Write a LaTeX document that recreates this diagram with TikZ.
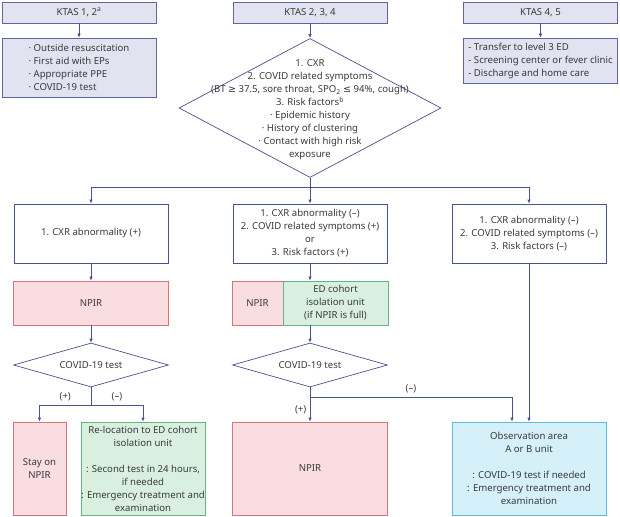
\documentclass[tikz,border=0pt]{standalone}
\usepackage{fontspec}
\setmainfont{Noto Sans}
\newfontfamily\symfont{DejaVu Sans}
\usepackage{tikz}
\usetikzlibrary{arrows.meta, shapes.geometric}

\definecolor{linecol}{HTML}{48538F}
\definecolor{txtcol}{HTML}{3A3A3A}
\definecolor{headfill}{HTML}{E2E2F1}
\definecolor{headline}{HTML}{5E66A2}
\definecolor{npirfill}{HTML}{F9DDE0}
\definecolor{npirline}{HTML}{D8737B}
\definecolor{cohortfill}{HTML}{D9F0E1}
\definecolor{cohortline}{HTML}{63B682}
\definecolor{obsfill}{HTML}{D6F0FA}
\definecolor{obsline}{HTML}{58BEDF}

\begin{document}
\begin{tikzpicture}[x=1pt, y=-1pt, font=\fontsize{9.6}{13}\selectfont, text=txtcol,
    main/.style = {draw=linecol, rectangle, inner sep=0pt, align=center, line width=0.7pt},
    head/.style = {main, draw=headline, fill=headfill, minimum width=154pt, minimum height=21pt},
    care/.style = {head, align=left},
    crit/.style = {main, minimum width=154pt, minimum height=59pt},
    npir/.style = {main, draw=npirline, fill=npirfill},
    cohort/.style = {main, draw=cohortline, fill=cohortfill},
    obsbox/.style = {main, draw=obsline, fill=obsfill},
    decision/.style = {draw=linecol, diamond, aspect=3.5, inner sep=1pt, line width=0.7pt},
    line/.style = {draw=linecol, line width=0.7pt},
    arrow/.style = {line, -{Latex[length=4pt,width=3.5pt]}}]
    \useasboundingbox (0,0) rectangle (620,516);

    % triage level
    \node[head] (ktasA) at (79,12.5) {KTAS 1, 2\textsuperscript{a}};
    \node[head] (ktasB) at (310,12.5) {KTAS 2, 3, 4};
    \node[head] (ktasC) at (540.5,12.5) {KTAS 4, 5};

    \node[care, minimum height=59pt] (careA) at (79,67.5) {· Outside resuscitation\\ · First aid with EPs\\ · Appropriate PPE\\ · COVID-19 test};
    \node[care, minimum height=45pt] (careC) at (540.5,60.5) {- Transfer to level 3 ED\\ - Screening center or fever clinic\\ - Discharge and home care};

    \path[arrow] (ktasA) edge (careA);
    \path[arrow] (ktasC) edge (careC);

    % screening
    \node[decision, minimum width=262pt, minimum height=139pt] (screen) at (310,108) {};
    \node[align=center] (screentext) at ([yshift=-2pt]screen.center) {1. CXR\\ 2. COVID related symptoms\\ (BT {\symfont ≥} 37.5, sore throat, SPO\textsubscript{2} {\symfont ≤} 94\%, cough)\\ 3. Risk factors\textsuperscript{b}\\ · Epidemic history\\ · History of clustering\\ · Contact with high risk\\ exposure};

    \path[arrow] (ktasB) edge (screen.north);

    \node[crit] (posbox) at (91,233.5) {1. CXR abnormality (+)};
    \node[crit] (midbox) at (310,233.5) {1. CXR abnormality (–)\\ 2. COVID related symptoms (+)\\ or\\ 3. Risk factors (+)};
    \node[crit] (negbox) at (529,233.5) {1. CXR abnormality (–)\\ 2. COVID related symptoms (–)\\ 3. Risk factors (–)};

    \coordinate (split) at (310,187);
    \draw[line] (screen.south) -- (split);
    \draw[arrow] (split) -| (posbox.north);
    \draw[arrow] (split) -- (midbox.north);
    \draw[arrow] (split) -| (negbox.north);

    % isolation
    \node[npir, minimum width=155pt, minimum height=44pt] (npirA) at (91,303) {NPIR};
    \node[npir, minimum width=51pt, minimum height=44pt] (npirB) at (257.5,303) {NPIR};
    \node[cohort, minimum width=105pt, minimum height=44pt] (cohortB) at (335.5,303) {ED cohort\\ isolation unit\\ (if NPIR is full)};

    \path[arrow] (posbox) edge (npirA);
    \draw[arrow] (midbox.south) -- (midbox.south |- cohortB.north);

    % tests
    \node[decision, minimum width=155pt, minimum height=44pt] (testA) at (91,365) {COVID-19 test};
    \node[decision, minimum width=155pt, minimum height=44pt] (testB) at (310,365) {COVID-19 test};

    \path[arrow] (npirA) edge (testA);
    \draw[arrow] (midbox.south |- cohortB.south) -- (testB.north);

    % outcome
    \node[npir, minimum width=53pt, minimum height=93pt] (stay) at (39.5,468.5) {Stay on\\ NPIR};
    \node[cohort, minimum width=124pt, minimum height=93pt] (reloc) at (143,468.5) {Re-location to ED cohort\\ isolation unit\\[13pt] : Second test in 24 hours,\\ if needed\\ : Emergency treatment and\\ examination};
    \node[npir, minimum width=155pt, minimum height=93pt] (npirC) at (310,468.5) {NPIR};
    \node[obsbox, minimum width=154pt, minimum height=93pt] (obs) at (529,468.5) {Observation area\\ A or B unit\\[13pt] : COVID-19 test if needed\\ : Emergency treatment and\\ examination};

    \coordinate (splitA) at (91,405);
    \draw[line] (testA.south) -- (splitA);
    \draw[arrow] (splitA) -| node[pos=0.25, above] {(+)} (stay.north);
    \draw[arrow] (splitA) -| node[pos=0.25, above] {(–)} (reloc.north);

    \coordinate (splitB) at (310,397);
    \draw[arrow] (testB.south) -- node[pos=0.66, left] {(+)} (npirC.north);
    \draw[arrow] (splitB) -| node[pos=0.25, above] {(–)} ([xshift=-17pt]obs.north);

    \path[arrow] (negbox) edge (obs);
\end{tikzpicture}
\end{document}
